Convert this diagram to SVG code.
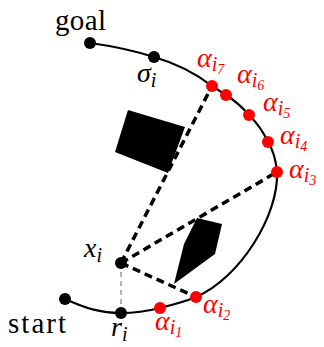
<svg xmlns="http://www.w3.org/2000/svg" width="324" height="347" viewBox="0 0 324 347">
<style>
text{font-family:'Liberation Serif','Times New Roman',Times,'DejaVu Serif','Noto Serif',serif}
.m{font-style:italic}
.red{fill:#ff0000}
.ray{stroke:#000;stroke-width:3.5;stroke-dasharray:8 5;fill:none}
.path{stroke:#000;stroke-width:2.2;fill:none}
.s1{font-size:20px}
.s2{font-size:14px}
</style>
<rect width="324" height="347" fill="#fff"/>
<g id="obstacle1"><polygon points="128,110 185,127 168,173 115,152" fill="#000"/></g>
<g id="obstacle2"><polygon points="197,218 222,224 215,254 174,284 184,244" fill="#000"/></g>
<g id="connectors">
<line class="ray" x1="121" y1="263" x2="212" y2="86"/>
<line class="ray" x1="121" y1="263" x2="277" y2="172"/>
<line class="ray" x1="121" y1="263" x2="196" y2="297"/>
<line x1="121" y1="263" x2="121" y2="313" stroke="#666" stroke-width="1" stroke-dasharray="5 4"/>
<path class="path" d="M65,299 C85,308 100,313 121,313 C135,313 148,311 160,308 C172,305 184,302 196,297 C240,278 279,215 277,172 C276,160 273,150 268,142 C263,131 257,123 249,115 C242,107 234,100 226,95 C221,92 217,89 212,86 C195,73 175,63 154,57 C135,51 112,46 90,43"/>
</g>
<g id="goal"><circle cx="90" cy="43" r="6"/><text x="55" y="30" font-size="29" textLength="51">goal</text></g>
<g id="sigma"><circle cx="154" cy="57" r="6"/><text class="m" x="137" y="82" font-size="28">σ<tspan class="s1" dy="5">i</tspan></text></g>
<g id="start"><circle cx="65" cy="299" r="6"/><text x="8" y="333" font-size="29" textLength="58">start</text></g>
<g id="r"><circle cx="121" cy="313" r="6"/><text class="m" x="111" y="336" font-size="28">r<tspan class="s1" dy="5">i</tspan></text></g>
<g id="x"><circle cx="121" cy="263" r="6"/><text class="m" x="84" y="257" font-size="28">x<tspan class="s1" dy="5">i</tspan></text></g>
<g id="a1"><circle class="red" cx="160" cy="308" r="6"/><text class="m red" x="155" y="330" font-size="28">α<tspan class="s1" dy="4">i</tspan><tspan class="s2" dy="3">1</tspan></text></g>
<g id="a2"><circle class="red" cx="196" cy="297" r="6"/><text class="m red" x="203" y="313" font-size="28">α<tspan class="s1" dy="4">i</tspan><tspan class="s2" dy="3">2</tspan></text></g>
<g id="a3"><circle class="red" cx="277" cy="172" r="6"/><text class="m red" x="289" y="178" font-size="28">α<tspan class="s1" dy="4">i</tspan><tspan class="s2" dy="3">3</tspan></text></g>
<g id="a4"><circle class="red" cx="268" cy="142" r="6"/><text class="m red" x="280" y="144" font-size="28">α<tspan class="s1" dy="4">i</tspan><tspan class="s2" dy="3">4</tspan></text></g>
<g id="a5"><circle class="red" cx="249" cy="115" r="6"/><text class="m red" x="263" y="111" font-size="28">α<tspan class="s1" dy="4">i</tspan><tspan class="s2" dy="3">5</tspan></text></g>
<g id="a6"><circle class="red" cx="226" cy="95" r="6"/><text class="m red" x="237" y="83" font-size="28">α<tspan class="s1" dy="4">i</tspan><tspan class="s2" dy="3">6</tspan></text></g>
<g id="a7"><circle class="red" cx="212" cy="86" r="6"/><text class="m red" x="197" y="67" font-size="28">α<tspan class="s1" dy="4">i</tspan><tspan class="s2" dy="3">7</tspan></text></g>
</svg>
